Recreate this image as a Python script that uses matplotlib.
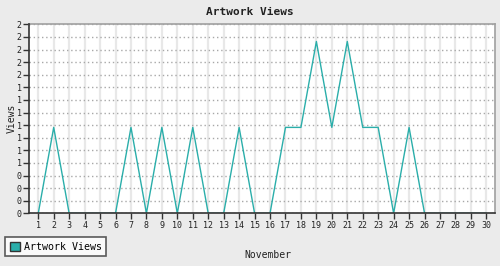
import numpy as np
import matplotlib
matplotlib.use('Agg')
import matplotlib.pyplot as plt
from matplotlib.ticker import FixedLocator, FormatStrFormatter

days = np.arange(1, 31)
views = [0, 1, 0, 0, 0, 0, 1, 0, 1, 0, 1, 0, 0, 1, 0,
         0, 1, 1, 2, 1, 2, 1, 1, 0, 1, 0, 0, 0, 0, 0]
series_name = 'Artwork Views'
month = 'November'

teal = '#2aaeaa'
mono = 'DejaVu Sans Mono'

fig = plt.figure(figsize=(5, 2.66), dpi=100, facecolor='#ebebeb')
ax = fig.add_axes([29.3/500, 1-213.3/266, (495.3-29.3)/500, (213.3-24.3)/266])
ax.set_facecolor('white')

ax.plot(days, views, color=teal, lw=1.0, zorder=3)

ax.set_xlim(0.42, 30.58)
ax.set_ylim(0, 2.2)
ax.set_xticks(days)
ax.yaxis.set_major_locator(FixedLocator(np.linspace(0, 2.2, 16)))
ax.yaxis.set_major_formatter(FormatStrFormatter('%.0f'))

ax.grid(axis='y', color='#a8a8a8', lw=1.0, ls=(0, (1, 2)), zorder=0)
ax.grid(axis='x', color='#e8e8e8', lw=1.6, zorder=1)

for s in ['top', 'right']:
    ax.spines[s].set_color('#a0a0a0')
    ax.spines[s].set_linewidth(1.2)
for s in ['left', 'bottom']:
    ax.spines[s].set_color('#333333')
    ax.spines[s].set_linewidth(1.2)
    ax.spines[s].set_zorder(4)

ax.tick_params(axis='both', length=4, width=1, color='#333333', labelsize=6,
               labelcolor='#222222', pad=1.5)
for lab in ax.get_xticklabels() + ax.get_yticklabels():
    lab.set_family(mono)

fig.text(0.5, 1-12/266, series_name, ha='center', va='center', family=mono,
         fontweight='bold', fontsize=8, color='#222222')
fig.text(268/500, 1-255/266, month, ha='center', va='center', family=mono,
         fontsize=7, color='#222222')
fig.text(12/500, 1-118/266, 'Views', ha='center', va='center', rotation=90,
         family=mono, fontsize=7, color='#222222')

leg = fig.legend([plt.Rectangle((0, 0), 1, 1, facecolor=teal, edgecolor='#333333', lw=1)],
                 [series_name], loc='lower left', bbox_to_anchor=(5/500, 1-256/266),
                 frameon=True, fancybox=False, borderpad=0.45, handlelength=1.0,
                 handleheight=1.0, handletextpad=0.4, borderaxespad=0,
                 prop={'family': mono, 'size': 7.2})
leg.get_frame().set_edgecolor('#333333')
leg.get_frame().set_linewidth(1.2)
leg.get_frame().set_facecolor('white')

fig.savefig('out.png', dpi=100, facecolor=fig.get_facecolor())
